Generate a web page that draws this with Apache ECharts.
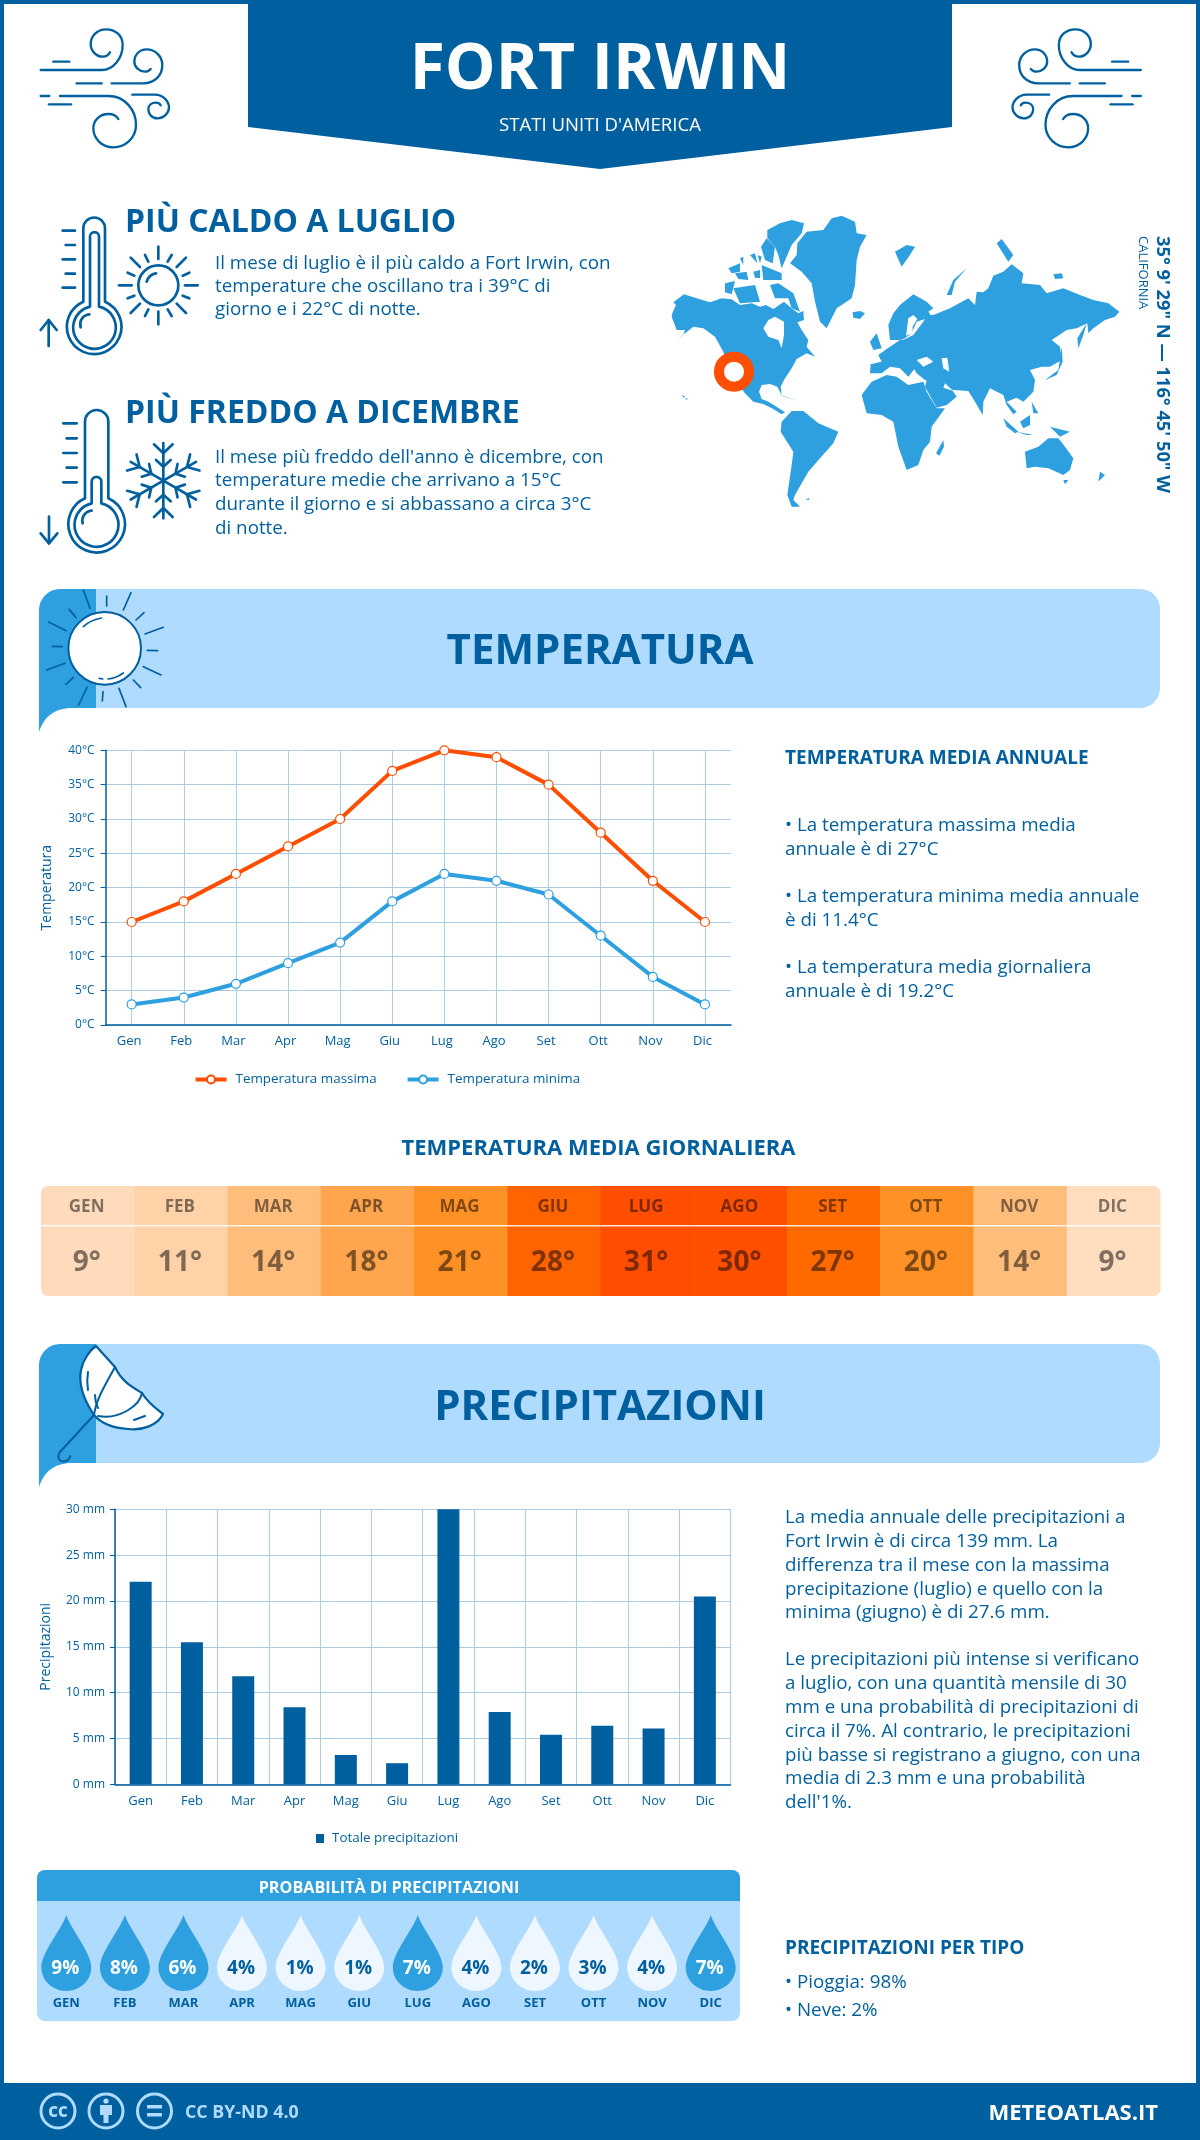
<!DOCTYPE html>
<html><head><meta charset="utf-8">
<style>html,body{margin:0;padding:0;background:#fff}#c{width:1200px;height:2140px}</style>
<script src="https://cdn.jsdelivr.net/npm/echarts@6/dist/echarts.min.js"></script>
</head><body><div id="c"></div>
<script>
const months=['Gen','Feb','Mar','Apr','Mag','Giu','Lug','Ago','Set','Ott','Nov','Dic'];
const monthsUpper=['GEN','FEB','MAR','APR','MAG','GIU','LUG','AGO','SET','OTT','NOV','DIC'];
const tempMax=[15,18,22,26,30,37,40,39,35,28,21,15];
const tempMin=[3,4,6,9,12,18,22,21,19,13,7,3];
const dailyMean=[9,11,14,18,21,28,31,30,27,20,14,9];
const precip=[22.1,15.5,11.8,8.4,3.2,2.3,30,7.9,5.4,6.4,6.1,20.5];
const rainProb=[9,8,6,4,1,1,7,4,2,3,4,7];
const dailyPalette=['#FFDBBB','#FFD2A8','#FFBD7C','#FFA54D','#FF9126','#FF6400','#FF4E00','#FF5000','#FF6A00','#FF9126','#FFBD7C','#FFDEC0'];

const BLUE='#005F9E',MID='#2E9FDF',LIGHT='#AFDBFF',GRID='#AECBE0',ORANGE='#FF4E00',FONT='"Open Sans",sans-serif';

const T=(text,x,y,size,opt={})=>{
  const rot=opt.rotation||0,dy=size*0.09;
  return {type:'text',x:x+(rot?dy:0),y:y+(rot?0:dy),silent:true,rotation:rot,
  style:{text,fontSize:size,fontFamily:FONT,fontWeight:opt.weight||400,fill:opt.fill||BLUE,
    align:opt.align||'left',verticalAlign:'middle'}};};
const lines=(arr,x,ys,size,opt)=>arr.map((s,i)=>T(s,x,ys[i],size,opt));

let pathId=0;
function P(d,style){
  const name='svgPath'+(pathId++);
  echarts.graphic.registerShape(name,echarts.graphic.extendPath(d));
  return {type:name,silent:true,style};
}
function strokeGroup(x,y,sx,sy,paths,lw,color,extra=[]){
  return {type:'group',x,y,scaleX:sx,scaleY:sy,silent:true,children:[
    ...extra,
    ...paths.map(d=>P(d,{fill:'none',stroke:color||BLUE,lineWidth:lw,lineCap:'round',lineJoin:'round'}))]};
}

const windPaths=[
 'M32,150 H215 C250,150 278,115 278,75 C278,45 255,28 228,28 C200,28 182,50 182,72 C182,92 198,110 218,110 C228,110 236,105 240,97',
 'M70,125 H118','M140,190 H215',
 'M245,190 H340 C375,190 397,165 397,135 C397,108 375,88 350,88 C328,88 313,105 313,125 C313,142 330,155 345,155 C352,155 358,152 362,147',
 'M32,228 H58',
 'M90,228 H235 C285,228 318,270 318,315 C318,355 285,382 250,382 C215,382 190,355 190,325 C190,300 210,282 235,282 C250,282 260,288 265,297',
 'M57,253 H123',
 'M307,224 H375 C400,224 417,245 417,262 C417,280 400,295 383,295 C365,295 355,282 355,268 C355,255 365,248 378,248 C385,248 390,252 392,256'];

const thermoHot=[
 'M160,290 V70 A32,32 0 0 1 225,70 V290 A82,82 0 1 1 160,290',
 'M180,305 V95 A13,13 0 0 1 207,95 V305 A64,64 0 1 1 180,305',
 'M152,367 A30,30 0 0 1 178,328',
 'M98,77 H135','M107,120 H135','M98,163 H135','M107,206 H135','M98,248 H135',
 'M56,423 V345','M32,375 L56,345 L80,375',
 'M445,241 A60,60 0 1 1 325,241 A60,60 0 1 1 445,241','M350,230 A35,35 0 0 1 378,205',
 'M385,125 V162','M385,320 V358','M267,241 H305','M465,241 H503',
 'M302,158 L330,186','M468,158 L440,186','M302,324 L330,296','M468,324 L440,296',
 'M345,150 L355,170','M425,150 L413,170','M293,203 L313,212','M478,203 L458,212',
 'M293,280 L313,272','M478,280 L458,272','M345,333 L355,313','M425,333 L413,313'];
const thermoCold=[
 'M165,880 V650 A35,35 0 0 1 235,650 V880 A85,85 0 1 1 165,880',
 'M185,895 V830 A14,14 0 0 1 214,830 V895 A66,66 0 1 1 185,895',
 'M158,955 A30,30 0 0 1 185,917',
 'M100,655 H140','M110,700 H140','M100,744 H140','M110,788 H140','M100,832 H140',
 'M57,935 V1015','M32,985 L57,1015 L82,985'];
(function(){const cx=400,cy=827;
 const pt=(a,r,s)=>{const c=Math.cos(a),n=Math.sin(a);return [(cx+c*r-n*s).toFixed(1),(cy+n*r+c*s).toFixed(1)].join(',');};
 for(let k=0;k<6;k++){const a=-Math.PI/2+k*Math.PI/3;
  thermoCold.push('M'+cx+','+cy+' L'+pt(a,113,0));
  thermoCold.push('M'+pt(a,109,-28)+' L'+pt(a,82,0)+' L'+pt(a,109,28));
  thermoCold.push('M'+pt(a,62,-22)+' L'+pt(a,42,0)+' L'+pt(a,62,22));}
})();

const sunRays=['M160,30 L180,85','M230,48 L230,78','M303,38 L280,90','M342,98 L318,120','M400,142 L345,162','M383,212 L352,211','M393,285 L340,260','M332,323 L310,300','M288,380 L267,325','M217,363 L219,335','M146,375 L171,322','M130,292 L108,313','M105,250 L50,270','M97,200 L67,199','M108,152 L56,126','M138,112 L117,88','M160,140 C175,125 195,118 214,114','M208,295 L218,297','M234,297 C250,296 266,289 280,279'];

const land=[
 // North America
 [38,322,48,300,40,292,72,268,110,280,150,292,185,280,215,283,240,300,275,295,300,305,318,300,340,312,372,290,395,310,415,325,430,318,432,345,412,352,425,375,445,405,440,425,465,455,440,445,410,462,395,490,372,525,362,545,365,570,352,545,330,537,305,540,297,560,305,582,325,590,345,602,375,622,365,628,340,612,310,597,280,590,255,565,240,545,225,525,200,470,190,440,165,395,130,370,100,365,75,385,45,410,70,390,75,375,50,375,35,335],
 // Arctic islands
 [322,75,360,55,395,45,432,55,425,85,395,120,365,190,355,150,345,125,322,100],[303,125,320,100,345,125,338,175,315,165],
 [195,235,225,228,215,268,195,262],[205,190,240,175,240,200,215,205],[225,205,260,200,265,225,235,222],[280,200,300,195,300,220,285,218],
 [220,250,285,240,300,290,240,295],[330,240,355,235,400,265,420,320,395,310,385,280,345,280],[305,180,365,205,365,225,310,225],[240,160,250,155,250,180],[270,150,285,145,292,175],[293,150,305,155,300,175],
 // Greenland, Iceland
 [412,115,440,80,490,75,515,40,545,32,585,50,590,85,620,90,600,125,590,165,585,240,575,280,530,310,500,370,480,350,465,290,455,235,425,200,390,175,410,150],
 [578,322,600,318,615,325,600,342,580,338],
 // Caribbean and small islands
 [345,565,385,578,410,587,375,576],[65,570,75,574,72,578],[76,578,84,582,78,584],[436,882,448,880,446,886],
 // South America
 [365,650,395,618,430,618,475,655,535,680,520,715,480,760,445,800,425,835,405,870,400,885,420,905,395,905,382,870,395,780,400,740,362,680],
 // Africa
 [605,570,635,530,680,510,710,515,745,540,790,530,800,560,830,610,855,610,815,665,810,710,790,735,775,780,740,795,715,725,700,650,665,630,620,625],
 [850,705,852,725,838,752,828,745],
 // Russia and Asia
 [820,330,870,310,925,280,945,300,950,260,970,262,985,250,1000,212,1030,200,1055,178,1090,205,1085,235,1140,240,1160,265,1210,250,1260,270,1300,285,1345,295,1378,320,1365,335,1335,345,1300,370,1285,385,1282,355,1250,370,1220,375,1175,405,1200,425,1205,465,1170,485,1145,485,1110,495,1125,525,1120,560,1090,590,1070,578,1040,590,1070,620,1060,628,1040,600,1030,570,990,550,970,590,968,630,945,590,925,558,880,555,840,540,870,500,868,470,830,450,770,450,740,430,700,420,760,390,790,350,800,330],
 // Europe
 [630,505,632,478,665,470,655,450,680,432,720,405,770,400,790,420,770,450,810,450,840,480,860,520,800,525,790,510,765,490,745,515,720,490,690,485,665,505],
 // Caucasus and Turkey
 [760,440,880,445,885,550,795,525,770,505,755,480],
 // Arabia
 [795,545,800,525,860,520,880,560,890,575,860,600,830,608],
 // Scandinavia
 [685,360,700,325,720,300,760,268,800,290,820,310,805,320,815,335,770,350,755,385,735,400,720,405,690,405],
 // islands
 [630,410,650,385,665,430,640,435],[705,140,740,120,765,125,750,150,725,185],[860,270,880,225,920,190,885,230,875,270],[1010,115,1025,102,1060,150,1045,170],[1180,208,1205,205,1210,220,1185,222],
 [1252,400,1280,355,1270,390,1255,430],[1155,525,1195,495,1205,425,1208,470,1190,510],[1030,640,1075,680,1065,685,1040,665],[1080,650,1110,630,1110,660,1090,670],[1070,680,1120,690,1100,690],[1170,665,1230,680,1200,695],[1115,590,1135,625,1120,625],
 [1095,740,1135,725,1165,700,1195,700,1215,725,1240,760,1230,795,1210,810,1165,790,1125,785,1100,790],[1210,825,1225,825,1215,838],[1295,850,1320,825,1335,810,1320,800,1315,830]];
const water=[
 [310,370,325,345,345,335,372,350,372,390,365,430,355,405,325,395],
 [770,465,800,455,820,470,790,485],[845,460,862,458,868,500,850,490],[738,392,745,340,760,330,772,342,758,365,758,385],[855,535,880,558,850,548]];
const toPts=a=>{const p=[];for(let i=0;i<a.length;i+=2)p.push([a[i],a[i+1]]);return p;};
const mapGroup={type:'group',x:660,y:205,scaleX:1/3,scaleY:1/3,silent:true,children:[
 ...land.map(a=>({type:'polygon',silent:true,shape:{points:toPts(a)},style:{fill:MID}})),
 ...water.map(a=>({type:'polygon',silent:true,shape:{points:toPts(a)},style:{fill:'#fff'}})),
 {type:'circle',silent:true,shape:{cx:222,cy:500,r:45},style:{fill:'#fff',stroke:ORANGE,lineWidth:30}}]};

function banner(y){return [
 P(`M96,${y} H1140 A20,20 0 0 1 1160,${y+20} V${y+99} A20,20 0 0 1 1140,${y+119} H96 Z`,{fill:LIGHT}),
 P(`M96,${y} H60 A21,21 0 0 0 39,${y+21} V${y+143} C44,${y+128} 54,${y+119} 72,${y+119} H96 Z`,{fill:MID})];}

const graphicEls=[
 {type:'rect',silent:true,shape:{x:0,y:0,width:1200,height:4},style:{fill:BLUE}},
 {type:'rect',silent:true,shape:{x:0,y:0,width:4,height:2140},style:{fill:BLUE}},
 {type:'rect',silent:true,shape:{x:1196,y:0,width:4,height:2140},style:{fill:BLUE}},
 {type:'rect',silent:true,shape:{x:0,y:2083,width:1200,height:57},style:{fill:BLUE}},
 {type:'polygon',silent:true,shape:{points:[[248,0],[952,0],[952,127],[600,169],[248,127]]},style:{fill:BLUE}},
 T('FORT IRWIN',600,65,64,{weight:700,fill:'#fff',align:'center'}),
 T("STATI UNITI D'AMERICA",600,124,18.6,{fill:'#fff',align:'center'}),
 strokeGroup(30,20,1/3,1/3,windPaths,7),
 strokeGroup(1151.5,20,-1/3,1/3,windPaths,7),
 T('PIÙ CALDO A LUGLIO',125,220,32,{weight:700}),
 ...lines(['Il mese di luglio è il più caldo a Fort Irwin, con','temperature che oscillano tra i 39°C di','giorno e i 22°C di notte.'],215,[262,285,308],18.8),
 T('PIÙ FREDDO A DICEMBRE',125,411,32,{weight:700}),
 ...lines(["Il mese più freddo dell'anno è dicembre, con",'temperature medie che arrivano a 15°C','durante il giorno e si abbassano a circa 3°C','di notte.'],215,[456,479,503,527],18.8),
 strokeGroup(30,205,1/3,1/3,thermoHot,8),
 strokeGroup(30,205,1/3,1/3,thermoCold,8),
 mapGroup,
 T('35° 9\' 29" N — 116° 45\' 50" W',1161,236,18.3,{weight:700,rotation:-Math.PI/2}),
 T('CALIFORNIA',1142,236,13,{rotation:-Math.PI/2}),
 ...banner(589),
 strokeGroup(30,580,1/3,1/3,sunRays,5,BLUE,[{type:'circle',silent:true,shape:{cx:224,cy:205,r:109},style:{fill:'#fff',stroke:BLUE,lineWidth:6}}]),
 T('TEMPERATURA',600,648,42,{weight:700,align:'center'}),
 T('TEMPERATURA MEDIA ANNUALE',785,757,19,{weight:700}),
 ...lines(['• La temperatura massima media','annuale è di 27°C','• La temperatura minima media annuale','è di 11.4°C','• La temperatura media giornaliera','annuale è di 19.2°C'],785,[824,848,895,919,966,990],18.8),
 T('TEMPERATURA MEDIA GIORNALIERA',598.5,1147,22,{weight:700,align:'center'}),
 ...banner(1344),
 P('M96,1346 L115,1367 C122,1382 132,1387 142,1393 C146,1400 155,1408 163,1414 C158,1425 142,1431 128,1429 C112,1428 100,1422 94,1415 C84,1400 78,1385 81,1370 C83,1360 90,1350 96,1346 Z',{fill:'#fff',stroke:BLUE,lineWidth:2.2,lineJoin:'round'}),
 strokeGroup(0,0,1,1,['M94,1415 L60,1452 C56,1458 60,1463 66,1461 C68,1460 70,1458 70,1456','M115,1367 C105,1385 96,1400 94,1415','M142,1393 C140,1405 120,1420 98,1416','M88,1372 C87,1378 87,1384 88,1390','M134,1420 L145,1416','M95,1395 C95,1400 96,1404 98,1408'],2),
 T('PRECIPITAZIONI',600,1404,42,{weight:700,align:'center'}),
 ...lines(['La media annuale delle precipitazioni a','Fort Irwin è di circa 139 mm. La','differenza tra il mese con la massima','precipitazione (luglio) e quello con la','minima (giugno) è di 27.6 mm.'],785,[1516,1540,1564,1588,1611],18.8),
 ...lines(['Le precipitazioni più intense si verificano','a luglio, con una quantità mensile di 30','mm e una probabilità di precipitazioni di','circa il 7%. Al contrario, le precipitazioni','più basse si registrano a giugno, con una','media di 2.3 mm e una probabilità',"dell'1%."],785,[1658,1682,1706,1730,1754,1777,1801],18.8),
 T('PRECIPITAZIONI PER TIPO',785,1947,19,{weight:700}),
 T('• Pioggia: 98%',785,1981,18.8),T('• Neve: 2%',785,2009,18.8),
 {type:'rect',silent:true,shape:{x:37,y:1870,width:703,height:151,r:8},style:{fill:LIGHT}},
 P('M37,1901 V1878 A8,8 0 0 1 45,1870 H732 A8,8 0 0 1 740,1878 V1901 Z',{fill:MID}),
 T('PROBABILITÀ DI PRECIPITAZIONI',389,1887,16.2,{weight:700,fill:'#fff',align:'center'}),
 ...[58,106,154.5].map(cx=>({type:'circle',silent:true,shape:{cx,cy:2111,r:17},style:{fill:'none',stroke:LIGHT,lineWidth:3}})),
 T('CC',58,2111,15,{weight:800,fill:LIGHT,align:'center'}),
 {type:'circle',silent:true,shape:{cx:106,cy:2101,r:2.6},style:{fill:LIGHT}},
 P('M100,2105 H112 V2115 H108.5 V2123 H103.5 V2115 H100 Z',{fill:LIGHT}),
 {type:'rect',silent:true,shape:{x:147,y:2105,width:15,height:3.5},style:{fill:LIGHT}},
 {type:'rect',silent:true,shape:{x:147,y:2113,width:15,height:3.5},style:{fill:LIGHT}},
 T('CC BY-ND 4.0',185,2111.5,17.8,{weight:700,fill:LIGHT}),
 T('METEOATLAS.IT',1158,2112,22,{weight:700,fill:'#fff',align:'right'})
];

const axisText={color:BLUE,fontFamily:FONT,fontSize:12};
const option={
 animation:false,backgroundColor:'#fff',
 graphic:{elements:graphicEls},
 legend:[
  {data:['Temperatura massima','Temperatura minima'],left:193.5,top:1073,padding:0,itemWidth:31,itemHeight:10,itemGap:29,lineStyle:{width:4},textStyle:{color:BLUE,fontFamily:FONT,fontSize:13.4,padding:[0,0,0,4]},selectedMode:false},
  {data:['Totale precipitazioni'],left:316,top:1832,padding:0,itemWidth:8,itemHeight:9,icon:'rect',textStyle:{color:BLUE,fontFamily:FONT,fontSize:13.4,padding:[0,0,0,3]},selectedMode:false}],
 grid:[
  {left:105.6,top:750.3,width:625.4,height:274.7},
  {left:115,top:1509.3,width:615.5,height:275},
  {left:41,top:1186,width:1119,height:110},
  {left:37,top:1915,width:703,height:76}],
 xAxis:[
  {gridIndex:0,type:'category',data:months,axisLine:{lineStyle:{color:BLUE,width:1.5}},axisTick:{show:false},
   splitLine:{show:true,alignWithLabel:true,showMinLine:true,showMaxLine:true,lineStyle:{color:GRID,width:1}},
   axisLabel:{...axisText,fontSize:13,margin:10,padding:[0,5,0,0]}},
  {gridIndex:1,type:'category',data:months,axisLine:{lineStyle:{color:BLUE,width:1.5}},axisTick:{show:false},
   splitLine:{show:true,lineStyle:{color:GRID,width:1}},axisLabel:{...axisText,fontSize:13,margin:10}},
  {gridIndex:2,type:'category',data:monthsUpper,show:false},
  {gridIndex:3,type:'category',data:monthsUpper,axisLine:{show:false},axisTick:{show:false},splitLine:{show:false},
   axisLabel:{color:BLUE,fontFamily:FONT,fontSize:13,fontWeight:700,margin:6}}],
 yAxis:[
  {gridIndex:0,type:'value',min:0,max:40,interval:5,name:'Temperatura',nameLocation:'middle',nameGap:52,nameRotate:90,
   nameTextStyle:{color:BLUE,fontFamily:FONT,fontSize:14},
   axisLine:{show:true,lineStyle:{color:BLUE,width:1.5}},axisTick:{show:true,length:5,lineStyle:{color:BLUE}},
   splitLine:{lineStyle:{color:GRID,width:1.2}},axisLabel:{...axisText,margin:11,formatter:'{value}°C'}},
  {gridIndex:1,type:'value',min:0,max:30,interval:5,name:'Precipitazioni',nameLocation:'middle',nameGap:62,nameRotate:90,
   nameTextStyle:{color:BLUE,fontFamily:FONT,fontSize:14},
   axisLine:{show:true,lineStyle:{color:BLUE,width:1.5}},axisTick:{show:true,length:5,lineStyle:{color:BLUE}},
   splitLine:{lineStyle:{color:GRID,width:1.2}},axisLabel:{...axisText,margin:10,formatter:'{value} mm'}},
  {gridIndex:2,type:'category',data:[''],show:false},
  {gridIndex:3,type:'category',data:[''],show:false}],
 series:[
  {name:'Temperatura massima',type:'line',xAxisIndex:0,yAxisIndex:0,data:tempMax,z:5,symbol:'circle',symbolSize:9,showAllSymbol:true,
   lineStyle:{color:ORANGE,width:4},itemStyle:{color:'#fff',borderColor:ORANGE,borderWidth:1.2}},
  {name:'Temperatura minima',type:'line',xAxisIndex:0,yAxisIndex:0,data:tempMin,z:5,symbol:'circle',symbolSize:9,showAllSymbol:true,
   lineStyle:{color:MID,width:4},itemStyle:{color:'#fff',borderColor:MID,borderWidth:1.2}},
  {name:'Totale precipitazioni',type:'bar',xAxisIndex:1,yAxisIndex:1,data:precip,barWidth:22,itemStyle:{color:BLUE}},
  {name:'Temperatura media giornaliera',type:'custom',xAxisIndex:2,yAxisIndex:2,encode:{x:0,y:1},
   data:dailyMean.map((v,i)=>[i,0,v]),
   renderItem(params,api){
     const i=api.value(0),v=api.value(2),w=api.size([1,0])[0],cs=params.coordSys,cx=api.coord([i,0])[0];
     const r=i===0?[7,0,0,7]:i===11?[0,7,7,0]:0;
     const txt={fontFamily:FONT,fill:'rgba(0,0,0,0.5)',align:'center',verticalAlign:'middle'};
     return {type:'group',children:[
       {type:'rect',shape:{x:cx-w/2,y:cs.y,width:w+0.5,height:cs.height,r},style:{fill:dailyPalette[i]}},
       {type:'rect',shape:{x:cx-w/2,y:cs.y+39,width:w+0.5,height:1.5},style:{fill:'rgba(255,255,255,0.85)'}},
       {type:'text',x:cx-1,y:cs.y+21.5,style:{...txt,text:monthsUpper[i],fontSize:17,fontWeight:700}},
       {type:'text',x:cx-1,y:cs.y+77,style:{...txt,text:v+'°',fontSize:28,fontWeight:700}}]};
   }},
  {name:'Probabilità di precipitazioni',type:'scatter',xAxisIndex:3,yAxisIndex:3,z:10,
   symbol:'path://M50,0 C60,30 100,75 100,105 C100,130 78,152 50,152 C22,152 0,130 0,105 C0,75 40,30 50,0Z',symbolSize:[50,76],
   data:rainProb.map((p,i)=>({value:[i,0,p],itemStyle:{color:p>=6?MID:'#EEF7FF',opacity:1},
     label:{color:p>=6?'#fff':BLUE}})),
   label:{show:true,position:'inside',offset:[-1,15.5],fontFamily:FONT,fontSize:19,fontWeight:700,
     formatter:p=>p.value[2]+'%'}}
 ]};
const chart=echarts.init(document.getElementById('c'),null,{renderer:'canvas',width:1200,height:2140});
chart.setOption(option);
</script></body></html>
